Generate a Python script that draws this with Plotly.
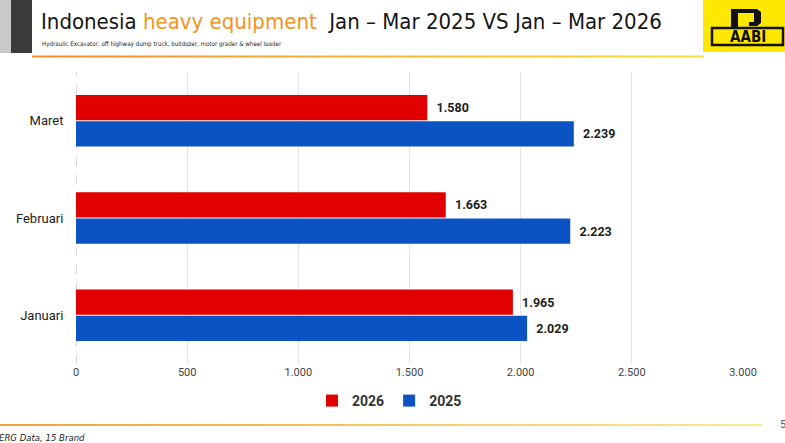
import plotly.graph_objects as go

# ---- data ----
months = ["Januari", "Februari", "Maret"]
sales_2025 = [2029, 2223, 2239]
sales_2026 = [1965, 1663, 1580]
x_ticks = [0, 500, 1000, 1500, 2000, 2500, 3000]

title_main = "Indonesia"
title_orange = "heavy equipment"
title_rest = "Jan – Mar 2025 VS Jan – Mar 2026"
subtitle = "Hydraulic Excavator, off highway dump truck, bulldozer, motor grader & wheel loader"
source = "ERG Data, 15 Brand"

# ---- layout geometry (pixels) ----
W, H = 785, 443
L, R, T, B = 76, 42, 72, 79
PW, PH = W - L - R, H - T - B


def px(x):
    return (x - L) / PW


def py(y):
    return (H - B - y) / PH


RED = "#E10000"
BLUE = "#0B52C3"
NARROW = "Liberation Sans Narrow, DejaVu Sans Condensed, Arial Narrow, sans-serif"
FONT = "Roboto, Liberation Sans, Arial, sans-serif"

fig = go.Figure()
fig.add_trace(go.Bar(
    y=months, x=sales_2025, orientation="h", name="2025",
    marker=dict(color=BLUE, line=dict(width=0)),
    texttemplate="\u00a0\u00a0%{x:,}", textposition="outside",
    textfont=dict(family=FONT, size=12.5, color="#222222", weight="bold"),
    cliponaxis=False,
))
fig.add_trace(go.Bar(
    y=months, x=sales_2026, orientation="h", name="2026",
    marker=dict(color=RED, line=dict(width=0)),
    texttemplate="\u00a0\u00a0%{x:,}", textposition="outside",
    textfont=dict(family=FONT, size=12.5, color="#222222", weight="bold"),
    cliponaxis=False,
))

shapes = []


def rect(x0, y0, x1, y1, color, layer="above"):
    shapes.append(dict(type="rect", xref="paper", yref="paper",
                       x0=px(x0), x1=px(x1), y0=py(y1), y1=py(y0),
                       fillcolor=color, line=dict(width=0), layer=layer))


def gradient(x0, x1, y0, y1, c0, c1, n=40):
    for i in range(n):
        t = i / (n - 1)
        c = tuple(int(round(a + (b - a) * t)) for a, b in zip(c0, c1))
        xa = x0 + (x1 - x0) * i / n
        xb = x0 + (x1 - x0) * (i + 1) / n + 0.5
        rect(xa, y0, xb, y1, "rgb(%d,%d,%d)" % c)


# header blocks
rect(0, 0, 11, 53, "#c9c9c9")
rect(11, 0, 32, 53, "#3b3b3b")
gradient(32, 703, 55.5, 57.5, (242, 140, 40), (250, 222, 60))
rect(703, 0, 785, 52, "#FFE800")
# footer line
gradient(0, 762, 424, 426, (243, 160, 70), (248, 236, 140))

# zero line (dashed)
shapes.append(dict(type="line", xref="x", yref="paper", x0=0, x1=0, y0=0, y1=1.0,
                   line=dict(color="#bdbdbd", width=1.2, dash="dash"), layer="below"))


def path_px(points):
    return "M " + " L ".join("%f,%f" % (px(x), py(y)) for x, y in points) + " Z"


# logo: stylised P shape + AABI track outline
shapes.append(dict(type="path", xref="paper", yref="paper",
                   path=path_px([(731, 29), (731, 9), (757, 9), (761, 12), (761, 23), (757, 26),
                                 (749, 26), (749, 22), (754, 22), (754, 13), (738, 13), (738, 29)]),
                   fillcolor="#111111", line=dict(width=0)))
shapes.append(dict(type="rect", xref="paper", yref="paper",
                   x0=px(712), x1=px(783), y0=py(45), y1=py(28),
                   fillcolor="rgba(0,0,0,0)", line=dict(color="#111111", width=2.5)))

annotations = [
    dict(xref="paper", yref="paper", x=px(39), y=py(21), xanchor="left", yanchor="middle",
         showarrow=False,
         text=title_main + " <span style='color:#F39322'>" + title_orange + "</span>\u00a0\u00a0" + title_rest,
         font=dict(family=NARROW, size=22, color="#161616")),
    dict(xref="paper", yref="paper", x=px(40), y=py(44), xanchor="left", yanchor="middle",
         showarrow=False, text=subtitle,
         font=dict(family=NARROW, size=6.2, color="#222222")),
    dict(xref="paper", yref="paper", x=px(748), y=py(37), xanchor="center", yanchor="middle",
         showarrow=False, text="<b>AABI</b>",
         font=dict(family=NARROW, size=15, color="#111111")),
    dict(xref="paper", yref="paper", x=px(778), y=py(424), xanchor="left", yanchor="middle",
         showarrow=False, text="5", font=dict(family=FONT, size=11, color="#555555")),
    dict(xref="paper", yref="paper", x=px(-3), y=py(437), xanchor="left", yanchor="middle",
         showarrow=False, text="<i>" + source + "</i>",
         font=dict(family=NARROW, size=9.5, color="#222222")),
]

fig.update_layout(
    width=W, height=H,
    margin=dict(l=L, r=R, t=T, b=B, pad=0),
    paper_bgcolor="white", plot_bgcolor="white",
    barmode="group", bargap=0.46, bargroupgap=0.04,
    separators=",.",
    font=dict(family=FONT, color="#333333"),
    showlegend=True,
    legend=dict(orientation="h", x=0.47, xanchor="center", y=py(401), yanchor="middle",
                traceorder="reversed", itemwidth=30,
                font=dict(family=FONT, size=14, color="#333333", weight="bold")),
    xaxis=dict(range=[0, 3000], tickvals=x_ticks, tickformat=",",
               showgrid=True, gridcolor="#e6e6e6", gridwidth=1, zeroline=False,
               showline=False, ticks="", ticklen=0,
               tickfont=dict(size=11, color="#444444", family=FONT)),
    yaxis=dict(showgrid=False, zeroline=False, showline=False,
               ticks="outside", ticklen=9, tickcolor="rgba(0,0,0,0)",
               tickfont=dict(size=13, color="#222222", family=FONT)),
    shapes=shapes, annotations=annotations,
)

fig.write_html("out.html")
